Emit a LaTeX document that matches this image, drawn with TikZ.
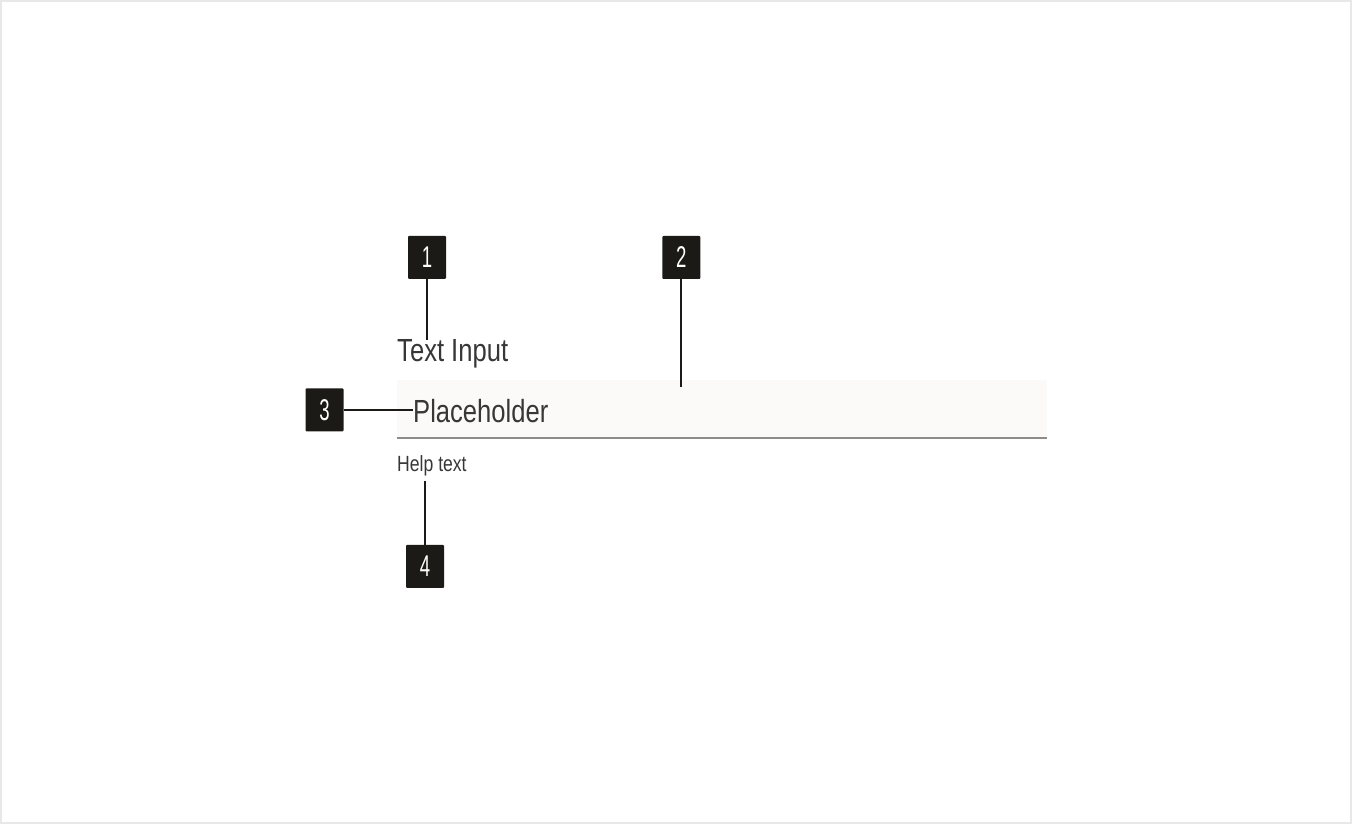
\documentclass[tikz,border=0pt]{standalone}
\usepackage{fontspec}
\setmainfont[FakeStretch=0.8]{Liberation Sans}
\newfontfamily\calloutfont[FakeStretch=0.62]{Liberation Sans}
\usepackage{tikz}
\usetikzlibrary{positioning}
\usepackage{xcolor}
\definecolor{tiblack}{RGB}{28,26,23}
\definecolor{titext}{RGB}{55,55,55}
\definecolor{tifield}{RGB}{251,250,248}
\definecolor{tiline}{RGB}{143,139,135}
\definecolor{tiframe}{RGB}{232,232,232}
\tikzstyle{lead} = [line width=2pt, color=tiblack]
\tikzstyle{callout} = [rectangle, rounded corners=1pt, minimum width=38pt, minimum height=43pt, inner sep=0pt, text centered, fill=tiblack, text=white, font=\calloutfont\fontsize{30}{32}\selectfont]
\tikzstyle{fieldbox} = [rectangle, minimum width=650pt, minimum height=58pt, inner sep=0pt, fill=tifield, draw=none]
\tikzstyle{label} = [inner sep=0pt, anchor=base west, text=titext]

\begin{document}
\begin{tikzpicture}[x=1pt, y=1pt]
% frame
\useasboundingbox (0,0) rectangle (1352,824);
\draw[tiframe, line width=2pt] (1,1) rectangle (1351,823);

% input field
\node[fieldbox, anchor=north west] (field) at (397,444) {};
\draw[tiline, line width=2pt] (field.south west) -- (field.south east);
\node[label, font=\fontsize{32}{34}\selectfont] (title) at (397,462) {Text Input};
\node[label, font=\fontsize{32}{34}\selectfont] (hint) at (413,401) {Placeholder};
\node[label, font=\fontsize{22}{24}\selectfont] (help) at (397,352) {Help text};
\coordinate (inside) at (681,437);

% callouts
\node[callout] (c1) at (427,566.5) {1};
\node[callout, right=216pt of c1] (c2) {2};
\node[callout] (c3) at (324.5,414) {3};
\node[callout] (c4) at (425,257.5) {4};
\draw[lead] (c1.south) -- (c1.south |- title.north);
\draw[lead] (c2.south) -- (c2.south |- inside);
\draw[lead] (c3.east) -- (c3.east -| hint.west);
\draw[lead, shorten >=4pt] (c4.north) -- (c4.north |- help.south);
\end{tikzpicture}
\end{document}
